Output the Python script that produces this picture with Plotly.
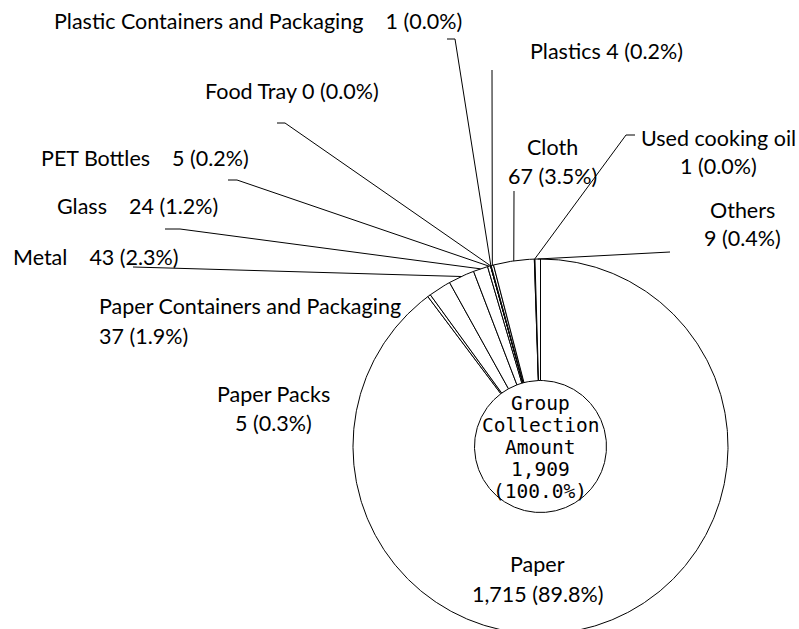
import numpy as np
import plotly.graph_objects as go

# Group collection amounts by material (slice order, clockwise from 12 o'clock)
categories = ["Paper", "Paper Packs", "Paper Containers and Packaging", "Metal", "Glass",
              "PET Bottles", "Food Tray", "Plastic Containers and Packaging", "Plastics",
              "Cloth", "Used cooking oil", "Others"]
amounts = [1715, 5, 37, 43, 24, 5, 0, 1, 4, 67, 1, 9]
percent_labels = ["89.8%", "0.3%", "1.9%", "2.3%", "1.2%", "0.2%", "0.0%", "0.0%", "0.2%",
                  "3.5%", "0.0%", "0.4%"]
total_amount = 1909
total_percent = "100.0%"

# Canvas geometry (pixel-like coordinate system on hidden axes)
W, H = 799, 629
CX, CY = 540.5, 446.5
R_OUT, R_IN = 187.5, 66.0

LABEL_FONT = dict(family="Lato, Open Sans, sans-serif", size=21.5, color="black")
CENTER_FONT = dict(family="DejaVu Sans Mono, Liberation Mono, monospace", size=19.5, color="black")

vals = np.array(amounts, dtype=float)
frac = vals / vals.sum()
ends = np.cumsum(frac) * 2 * np.pi
starts = ends - frac * 2 * np.pi
mids = (starts + ends) / 2


def polar(r, th):
    return CX + r * np.sin(th), CY - r * np.cos(th)


fig = go.Figure()

# Donut slices
for a0, a1 in zip(starts, ends):
    n = max(2, int(np.degrees(a1 - a0) * 2) + 2)
    th = np.linspace(a0, a1, n)
    xo, yo = polar(R_OUT, th)
    xi, yi = polar(R_IN, th[::-1])
    xs = np.concatenate([xo, xi, xo[:1]])
    ys = np.concatenate([yo, yi, yo[:1]])
    fig.add_trace(go.Scatter(x=xs, y=ys, mode="lines", fill="toself", fillcolor="white",
                             line=dict(color="black", width=1), hoverinfo="skip",
                             showlegend=False))

idx = {c: i for i, c in enumerate(categories)}


def fmt(v):
    return f"{v:,}"


# Leader lines: label-side points, then the slice midpoint on the outer edge
leaders = {
    "Plastic Containers and Packaging": [(447, 39), (455, 39)],
    "Plastics": [(492, 70)],
    "Food Tray": [(277, 123), (285, 123)],
    "PET Bottles": [(228, 180), (237, 180)],
    "Glass": [(165, 229), (180, 229)],
    "Metal": [(133, 267)],
    "Cloth": [(514, 191)],
    "Used cooking oil": [(635, 135), (626, 135)],
    "Others": [(670, 252)],
}
for name, pts in leaders.items():
    mx, my = polar(R_OUT, mids[idx[name]])
    xs = [p[0] for p in pts] + [mx]
    ys = [p[1] for p in pts] + [my]
    fig.add_trace(go.Scatter(x=xs, y=ys, mode="lines", line=dict(color="black", width=1),
                             hoverinfo="skip", showlegend=False))

annotations = []


def add_text(text, x, y, xanchor="center", font=LABEL_FONT):
    annotations.append(dict(text=text, x=x, y=y, xref="x", yref="y", xanchor=xanchor,
                            yanchor="middle", showarrow=False, font=font))


def lbl(name):
    i = idx[name]
    return f"{fmt(amounts[i])} ({percent_labels[i]})"


sp = "\u00a0" * 4
add_text(f"Plastic Containers and Packaging{sp}{lbl('Plastic Containers and Packaging')}", 52, 21, "left")
add_text(f"Plastics {lbl('Plastics')}", 528, 51, "left")
add_text(f"Food Tray {lbl('Food Tray')}", 203, 91, "left")
add_text(f"PET Bottles{sp}{lbl('PET Bottles')}", 39, 158, "left")
add_text(f"Glass{sp}{lbl('Glass')}", 55, 206, "left")
add_text(f"Metal{sp}{lbl('Metal')}", 11, 257, "left")
add_text("Cloth", 552, 147)
add_text(lbl("Cloth"), 552, 176)
add_text("Used cooking oil", 718, 138)
add_text(lbl("Used cooking oil"), 718, 166)
add_text("Others", 742, 210)
add_text(lbl("Others"), 742, 238)
add_text("Paper Containers and Packaging", 97, 306, "left")
add_text(lbl("Paper Containers and Packaging"), 97, 336, "left")
add_text("Paper Packs", 273, 394)
add_text(lbl("Paper Packs"), 273, 423)
add_text("Paper", 537, 564)
add_text(lbl("Paper"), 537, 594)

# Center total
center_lines = ["Group", "Collection", "Amount", f"{total_amount:,}", f"({total_percent})"]
for k, line in enumerate(center_lines):
    add_text(line, 540, 403 + 22 * k, font=CENTER_FONT)

fig.update_layout(
    width=W, height=H, autosize=False,
    margin=dict(l=0, r=0, t=0, b=0),
    paper_bgcolor="white", plot_bgcolor="white",
    xaxis=dict(range=[0, W], visible=False, fixedrange=True),
    yaxis=dict(range=[H, 0], visible=False, fixedrange=True),
    annotations=annotations,
    showlegend=False,
)

fig.write_html("out.html")
